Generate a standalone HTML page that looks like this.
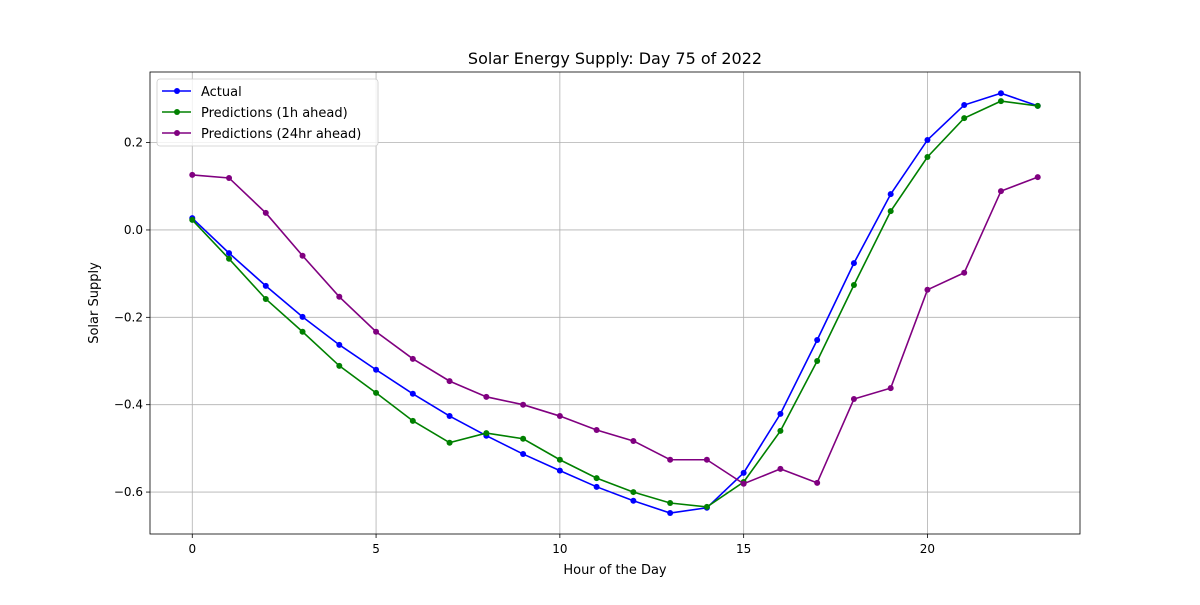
<!DOCTYPE html>
<html><head><meta charset="utf-8"><style>
body{margin:0;background:#fff;}
svg{font-family:"DejaVu Sans","Liberation Sans",sans-serif;}
</style></head><body>
<svg id="chart" width="1200" height="600" xmlns="http://www.w3.org/2000/svg"></svg>
<script>
const hours=[0,1,2,3,4,5,6,7,8,9,10,11,12,13,14,15,16,17,18,19,20,21,22,23];
const actual=[0.027,-0.053,-0.128,-0.199,-0.263,-0.320,-0.375,-0.426,-0.471,-0.513,-0.551,-0.588,-0.620,-0.648,-0.636,-0.556,-0.421,-0.252,-0.076,0.082,0.206,0.286,0.313,0.284];
const pred1h=[0.023,-0.066,-0.158,-0.233,-0.311,-0.373,-0.437,-0.487,-0.465,-0.478,-0.526,-0.568,-0.600,-0.625,-0.634,-0.577,-0.460,-0.300,-0.126,0.043,0.167,0.256,0.295,0.284];
const pred24h=[0.126,0.119,0.039,-0.059,-0.153,-0.233,-0.295,-0.346,-0.382,-0.400,-0.426,-0.458,-0.483,-0.526,-0.526,-0.581,-0.547,-0.579,-0.387,-0.362,-0.137,-0.098,0.089,0.121];
const xTicks=[0,5,10,15,20];
const yTicks=[-0.6,-0.4,-0.2,0.0,0.2];
const yTickLabels=["−0.6","−0.4","−0.2","0.0","0.2"];

const L=150,R=1080,T=72,B=534;
const xMin=-1.15,xMax=24.15,yMin=-0.696,yMax=0.3616;
const xs=v=>L+(v-xMin)/(xMax-xMin)*(R-L);
const ys=v=>B-(v-yMin)/(yMax-yMin)*(B-T);
const svg=document.getElementById('chart');
const NS='http://www.w3.org/2000/svg';
function mk(tag,attrs,parent){const e=document.createElementNS(NS,tag);for(const k in attrs)e.setAttribute(k,attrs[k]);(parent||svg).appendChild(e);return e;}

let t=mk('text',{x:615,y:64,'text-anchor':'middle','font-size':16,fill:'#000'});


t.textContent='Solar Energy Supply: Day 75 of 2022';

xTicks.forEach(v=>{
  let g=mk('line',{x1:xs(v),x2:xs(v),y1:T,y2:B,stroke:'#b0b0b0','stroke-width':0.8});
  
  
  mk('line',{x1:xs(v),x2:xs(v),y1:B,y2:B+4,stroke:'#000','stroke-width':0.8});
  let l=mk('text',{x:xs(v),y:B+19,'text-anchor':'middle','font-size':12});
  
  
  l.textContent=v;
});
yTicks.forEach((v,i)=>{
  let g=mk('line',{x1:L,x2:R,y1:ys(v),y2:ys(v),stroke:'#b0b0b0','stroke-width':0.8});
  
  
  mk('line',{x1:L-4,x2:L,y1:ys(v),y2:ys(v),stroke:'#000','stroke-width':0.8});
  let l=mk('text',{x:L-7,y:ys(v)+4,'text-anchor':'end','font-size':12});
  
  
  l.textContent=yTickLabels[i];
});
let fr=mk('rect',{x:L,y:T,width:R-L,height:B-T,fill:'none',stroke:'#000','stroke-width':0.8});



let xl=mk('text',{x:615,y:574,'text-anchor':'middle','font-size':13});


xl.textContent='Hour of the Day';
let yl=mk('text',{x:98,y:303,'text-anchor':'middle','font-size':13,transform:'rotate(-90 98 303)'});


yl.textContent='Solar Supply';

const series=[[actual,'#0000ff','actual-line'],[pred1h,'#008000','pred-1h-line'],[pred24h,'#800080','pred-24h-line']];
series.forEach(([d,c,n])=>{
  let p=mk('polyline',{points:hours.map((h,i)=>xs(h)+','+ys(d[i])).join(' '),fill:'none',stroke:c,'stroke-width':1.6});
  
  
  hours.forEach((h,i)=>{
    let m=mk('circle',{cx:xs(h),cy:ys(d[i]),r:3,fill:c});
    
    
  });
});

let lg=mk('g',{});


mk('rect',{x:157,y:79,width:221,height:67,rx:3,fill:'#fff','fill-opacity':0.8,stroke:'#ccc','stroke-width':0.8},lg);
const names=['Actual','Predictions (1h ahead)','Predictions (24hr ahead)'];
series.forEach(([d,c],i)=>{
  const y=91+i*21;
  mk('line',{x1:162,x2:191,y1:y,y2:y,stroke:c,'stroke-width':1.6},lg);
  mk('circle',{cx:177,cy:y,r:3,fill:c},lg);
  let e=mk('text',{x:201,y:y+5,'font-size':13},lg);
  
  
  e.textContent=names[i];
});
</script>
</body></html>
